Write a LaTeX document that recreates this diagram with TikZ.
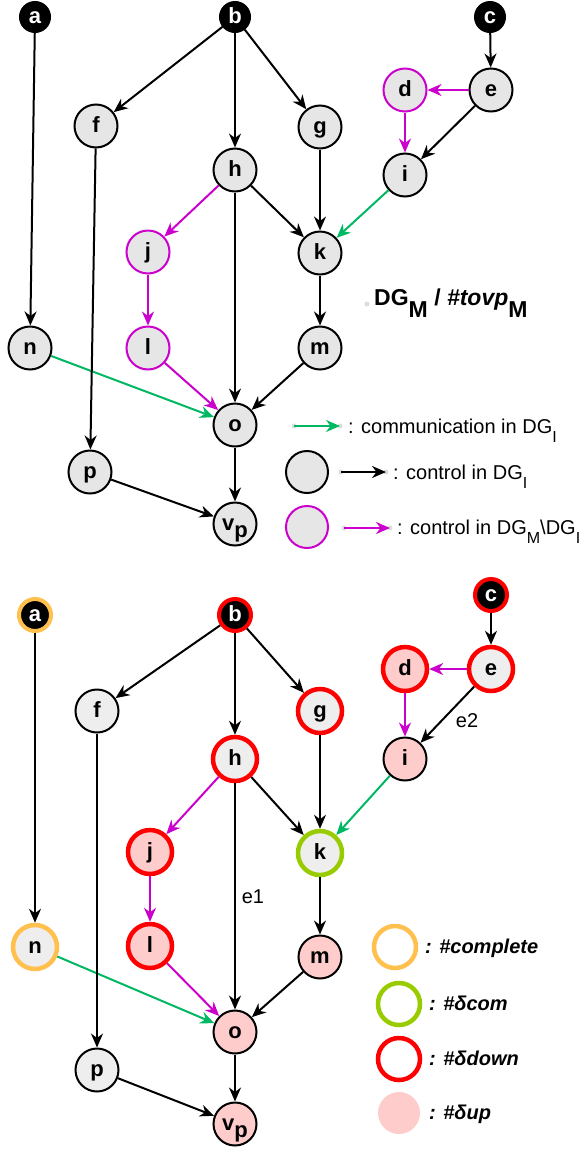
\documentclass[tikz,border=0pt]{standalone}
\usepackage{fontspec}
\setmainfont{Liberation Sans}
\usetikzlibrary{arrows.meta}
\definecolor{nodegray}{HTML}{E6E6E6}
\definecolor{nodegraylt}{HTML}{EEEEEE}
\definecolor{ctlmag}{HTML}{CC00CC}
\definecolor{comgreen}{HTML}{00B862}
\definecolor{ringorange}{HTML}{FFC04D}
\definecolor{ringgreen}{HTML}{99CC00}
\definecolor{ringred}{HTML}{FF0000}
\definecolor{uppink}{HTML}{FFCCCC}
\definecolor{dotgray}{HTML}{DDDDDD}
% lowered subscript in the running text size
\newcommand{\lowsub}[1]{\raisebox{-9pt}{\fontsize{16}{16}\selectfont #1}}
\begin{document}
\begin{tikzpicture}[x=1pt,y=-1pt,
  lbl/.style={font=\fontsize{22}{22}\selectfont\bfseries, text height=13pt, text depth=0pt, inner sep=0pt},
  nd/.style={circle, lbl, draw=black, line width=2pt, fill=nodegray, minimum size=43pt},
  src/.style={circle, lbl, draw=black, line width=2pt, fill=black, text=white, minimum size=30pt},
  mg/.style={nd, draw=ctlmag},
  bnd/.style={nd, fill=nodegraylt},
  pk/.style={nd, fill=uppink},
  ring/.style={line width=4.5pt, minimum size=44pt},
  srcring/.style={src, line width=4pt, minimum size=32pt},
  ed/.style={-{Stealth[length=14pt,width=12pt,inset=4.5pt]}, line width=2pt, line join=round},
  ctl/.style={ed, draw=black},
  mctl/.style={ed, draw=ctlmag, fill=ctlmag},
  com/.style={ed, draw=comgreen, fill=comgreen},
  txt/.style={font=\fontsize{20}{20}\selectfont, anchor=base west, inner sep=0pt},
  btxt/.style={font=\fontsize{20}{20}\selectfont\bfseries\itshape, anchor=base west, inner sep=0pt},
  elbl/.style={font=\fontsize{20}{20}\selectfont, inner sep=0pt},
  dot/.style={fill=dotgray}
]
\useasboundingbox (0,0) rectangle (585,1149);

% ---------------- upper graph: DG_M ----------------
\node[src] (a) at (35,17) {a};
\node[src] (b) at (235,17) {b};
\node[src] (c) at (490,17) {c};
\node[nd] (f) at (96,126) {f};
\node[nd] (g) at (320,127) {g};
\node[nd] (h) at (235,170) {h};
\node[nd] (e) at (491,90) {e};
\node[mg] (d) at (405,90) {d};
\node[nd] (i) at (405,175) {i};
\node[mg] (j) at (148,252) {j};
\node[nd] (k) at (320,253) {k};
\node[nd] (n) at (30,348) {n};
\node[mg] (l) at (148,348) {l};
\node[nd] (m) at (320,348) {m};
\node[nd] (o) at (235,425) {o};
\node[nd] (p) at (90,472) {p};
\node[nd, yshift=3pt] (vp) at (235,527) {v\raisebox{-7pt}{p}};

\draw[ctl] (a) -- (n);
\draw[ctl] (b) -- (f);
\draw[ctl] (b) -- (h);
\draw[ctl] (b) -- (g);
\draw[ctl] (c) -- (e);
\draw[mctl] (e) -- (d);
\draw[ctl] (e) -- (i);
\draw[mctl] (d) -- (i);
\draw[com] (i) -- (k);
\draw[mctl] (h) -- (j);
\draw[ctl] (h) -- (k);
\draw[ctl] (h) -- (o);
\draw[ctl] (g) -- (k);
\draw[ctl] (k) -- (m);
\draw[mctl] (j) -- (l);
\draw[mctl] (l) -- (o);
\draw[com] (n) -- (o);
\draw[ctl] (m) -- (o);
\draw[ctl] (f) -- (p);
\draw[ctl] (o) -- (vp);
\draw[ctl] (p) -- (vp);

% title
\fill[dot] (367,304) circle (2.5pt);
\node[txt, font=\fontsize{23}{23}\selectfont\bfseries] (title) at (374,305)
  {DG\raisebox{-12pt}{M} / \textit{\#tovp}\raisebox{-12pt}{M}};

% legend of the upper graph
\coordinate (l1s) at (294,426);
\coordinate (l1e) at (340,426);
\fill[dot] (l1s) circle (2.5pt);
\fill[dot] (l1e) circle (2.5pt);
\draw[com] (l1s) -- (l1e);
\node[txt] (l1t) at (348,433) {: communication in DG\lowsub{I}};

\node[nd, minimum size=42pt] (l2c) at (307,472) {};
\coordinate (l2s) at (341,472);
\coordinate (l2e) at (386,472);
\fill[dot] (l2s) circle (2.5pt);
\fill[dot] (l2e) circle (2.5pt);
\draw[ctl] (l2s) -- (l2e);
\node[txt] (l2t) at (393,479) {: control in DG\lowsub{I}};

\node[mg, minimum size=42pt] (l3c) at (307,527) {};
\coordinate (l3s) at (344,528);
\coordinate (l3e) at (390,528);
\fill[dot] (l3s) circle (2.5pt);
\fill[dot] (l3e) circle (2.5pt);
\draw[mctl] (l3s) -- (l3e);
\node[txt] (l3t) at (397,534) {: control in DG\lowsub{M}\textbackslash DG\lowsub{I}};

% ---------------- lower graph: #tovp_M ----------------
\node[srcring, draw=ringorange] (A) at (35,615) {a};
\node[srcring, draw=ringred] (B) at (235,615) {b};
\node[srcring, draw=ringred] (C) at (491,595) {c};
\node[bnd] (F) at (97,711) {f};
\node[bnd, ring, draw=ringred] (G) at (320,711) {g};
\node[bnd, ring, draw=ringred] (H) at (235,759) {h};
\node[bnd, ring, draw=ringred] (E) at (491,669) {e};
\node[pk, ring, draw=ringred] (D) at (405,669) {d};
\node[pk] (I) at (405,759) {i};
\node[pk, ring, draw=ringred] (J) at (150,852) {j};
\node[bnd, ring, draw=ringgreen] (K) at (320,853) {k};
\node[bnd, ring, draw=ringorange] (N) at (35,947) {n};
\node[pk, ring, draw=ringred] (L) at (150,946) {l};
\node[pk] (M) at (320,957) {m};
\node[pk] (O) at (235,1032) {o};
\node[bnd] (P) at (97,1070) {p};
\node[pk, yshift=3pt] (VP) at (235,1127) {v\raisebox{-7pt}{p}};

\draw[ctl] (A) -- (N);
\draw[ctl] (B) -- (F);
\draw[ctl] (B) -- (H);
\draw[ctl] (B) -- (G);
\draw[ctl] (C) -- (E);
\draw[mctl] (E) -- (D);
\draw[ctl] (E) -- (I);
\draw[mctl] (D) -- (I);
\draw[com] (I) -- (K);
\draw[mctl] (H) -- (J);
\draw[ctl] (H) -- (K);
\draw[ctl] (H) -- (O);
\draw[ctl] (G) -- (K);
\draw[ctl] (K) -- (M);
\draw[mctl] (J) -- (L);
\draw[mctl] (L) -- (O);
\draw[com] (N) -- (O);
\draw[ctl] (M) -- (O);
\draw[ctl] (F) -- (P);
\draw[ctl] (O) -- (VP);
\draw[ctl] (P) -- (VP);

\node[elbl] (e1) at (253,897) {e1};
\node[elbl] (e2) at (467,721) {e2};

% legend of the lower graph
\node[circle, draw=ringorange, line width=4.5pt, minimum size=42pt] (k1) at (395,947) {};
\node[btxt] (k1t) at (425,953) {: \#complete};
\node[circle, draw=ringgreen, line width=4.5pt, minimum size=42pt] (k2) at (399,1004) {};
\node[btxt] (k2t) at (429,1010) {: \#δcom};
\node[circle, draw=ringred, line width=4.5pt, minimum size=42pt] (k3) at (399,1059) {};
\node[btxt] (k3t) at (429,1065) {: \#δdown};
\node[circle, fill=uppink, minimum size=42pt] (k4) at (399,1113) {};
\node[btxt] (k4t) at (429,1119) {: \#δup};
\end{tikzpicture}
\end{document}
